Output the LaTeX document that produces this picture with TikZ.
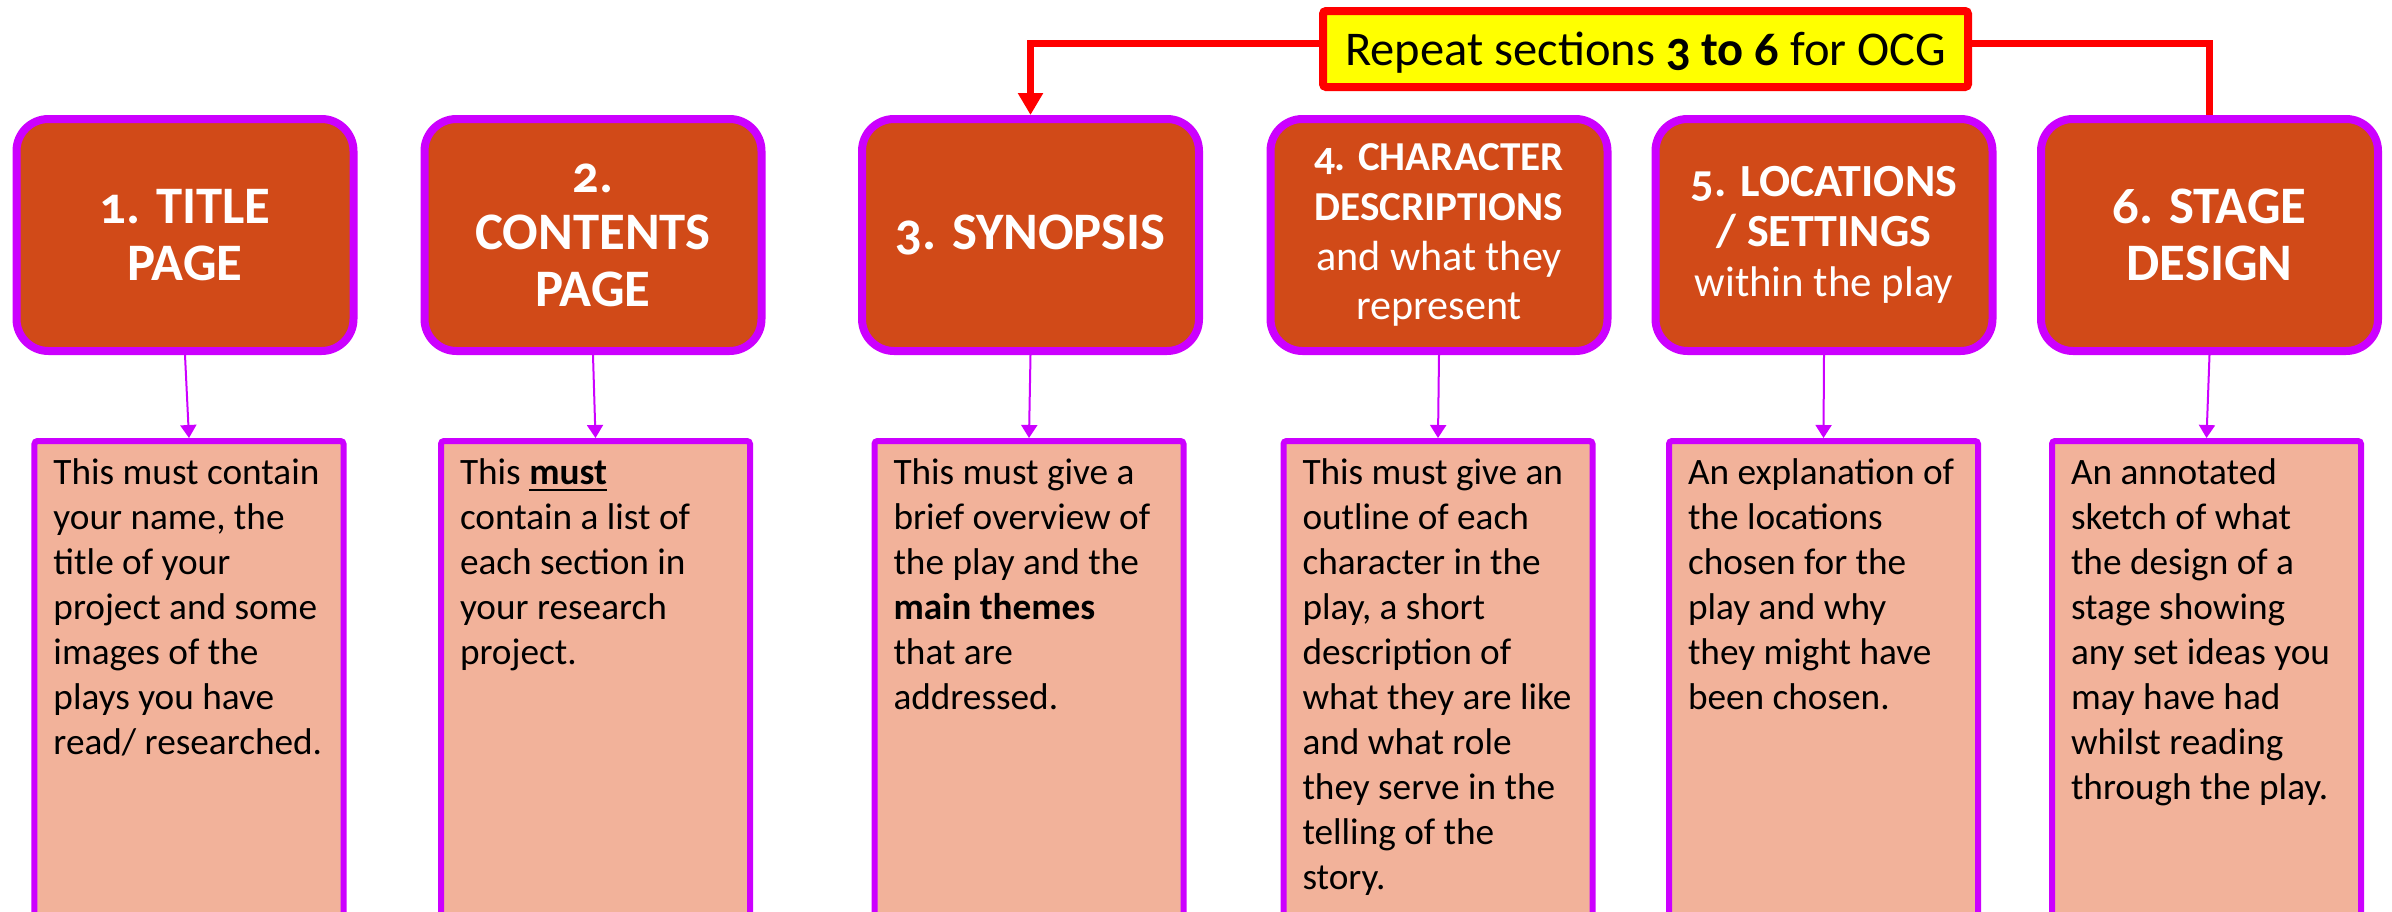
\documentclass[tikz,border=0pt]{standalone}
\usepackage{fontspec}
\setmainfont{Carlito}[Numbers=OldStyle]
\usepackage{xcolor}
\definecolor{secOrange}{HTML}{D14A18}
\definecolor{secPurple}{HTML}{CC00FF}
\definecolor{notePink}{HTML}{F2B29A}
\definecolor{repYellow}{HTML}{FFFF00}
\definecolor{repRed}{HTML}{FF0000}
\usepackage{tikz}
\usetikzlibrary{arrows.meta}

\newcommand{\notetext}[1]{\parbox[t][5.2cm][t]{2.71cm}{\raggedright #1}}

\begin{document}
\begin{tikzpicture}[
    secbox/.style={draw=secPurple, line width=0.08cm, fill=secOrange, rounded corners=0.32cm,
      minimum width=3.37cm, minimum height=2.32cm, inner sep=0pt, align=center, text=white,
      font=\bfseries\fontsize{15}{16.2}\selectfont},
    infobox/.style={draw=secPurple, line width=0.06cm, fill=notePink, rounded corners=0.03cm,
      anchor=north, inner xsep=0.19cm, inner ysep=0.18cm, font=\fontsize{10.6}{12.8}\selectfont},
    repbox/.style={draw=repRed, line width=0.08cm, fill=repYellow, rounded corners=0.03cm,
      minimum width=6.45cm, minimum height=0.76cm, inner sep=0pt, text height=0.32cm, text depth=0pt,
      font=\fontsize{13.8}{16}\selectfont},
    redline/.style={repRed, line width=0.07cm},
    feed/.style={secPurple, line width=0.02cm, -{Triangle[width=0.16cm,length=0.13cm]}}]
  \useasboundingbox (0,0) rectangle (23.92,9.11);
  \clip (0,0) rectangle (23.92,9.11);
  % sections
  \node[secbox] (s1) at (1.85,6.76) {1. TITLE\\PAGE};
  \node[secbox] (s2) at (5.93,6.76) {2.\\CONTENTS\\PAGE};
  \node[secbox] (s3) at (10.305,6.76) {3. SYNOPSIS};
  \node[secbox, font=\fontsize{12}{14.2}\selectfont] (s4) at (14.39,6.76)
    {{\bfseries\fontsize{11.7}{12.2}\selectfont 4. CHARACTER}\\
     {\bfseries\fontsize{11.7}{12.2}\selectfont DESCRIPTIONS}\\and what they\\represent};
  \node[secbox, font=\fontsize{12.2}{14.2}\selectfont] (s5) at (18.24,6.76)
    {{\bfseries\fontsize{13.1}{14.2}\selectfont 5. LOCATIONS}\\
     {\bfseries\fontsize{13.1}{14.2}\selectfont / SETTINGS}\\within the play};
  \node[secbox] (s6) at (22.095,6.76) {6. STAGE\\DESIGN};
  % descriptions
  \node[infobox] (d1) at (1.89,4.73) {\notetext{This must contain\\your name, the\\title of your\\project and some\\images of the\\plays you have\\read/ researched.}};
  \node[infobox] (d2) at (5.955,4.73) {\notetext{This \underline{\textbf{must}}\\contain a list of\\each section in\\your research\\project.}};
  \node[infobox] (d3) at (10.29,4.73) {\notetext{This must give a\\brief overview of\\the play and the\\\textbf{main themes}\\that are\\addressed.}};
  \node[infobox] (d4) at (14.38,4.73) {\notetext{This must give an\\outline of each\\character in the\\play, a short\\description of\\what they are like\\and what role\\they serve in the\\telling of the\\story.}};
  \node[infobox] (d5) at (18.235,4.73) {\notetext{An explanation of\\the locations\\chosen for the\\play and why\\they might have\\been chosen.}};
  \node[infobox] (d6) at (22.065,4.73) {\notetext{An annotated\\sketch of what\\the design of a\\stage showing\\any set ideas you\\may have had\\whilst reading\\through the play.}};
  \foreach \i in {1,...,6} \draw[feed] (s\i.south) -- (d\i.north);
  % repeat note
  \node[repbox] (rep) at (16.455,8.62) {Repeat sections \textbf{3 to 6} for OCG};
  \coordinate (redrow) at (0,8.68);
  \draw[redline, -{Triangle[width=0.24cm,length=0.22cm]}] (rep.west |- redrow) -| (s3.north);
  \draw[redline] (rep.east |- redrow) -| (s6.north);
\end{tikzpicture}
\end{document}
